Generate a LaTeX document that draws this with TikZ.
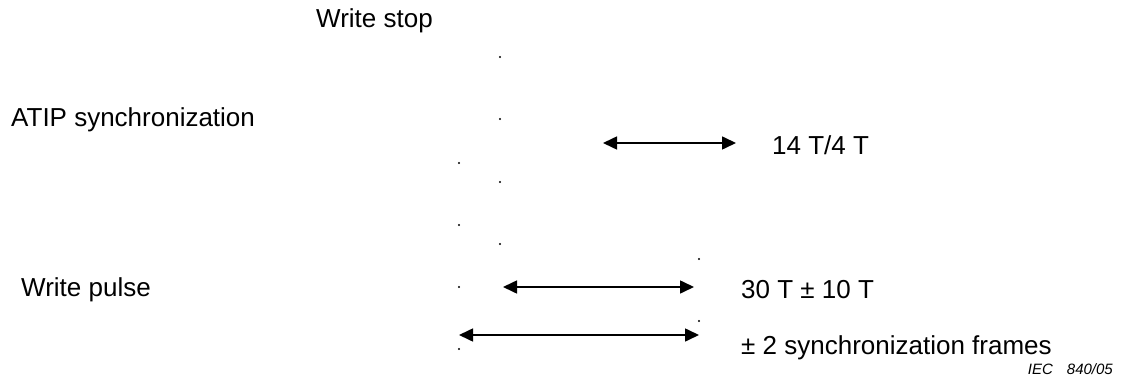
\documentclass[tikz,border=0pt]{standalone}
\usepackage{fontspec}
\setmainfont{Liberation Sans}
\usetikzlibrary{arrows.meta}
\begin{document}
\begin{tikzpicture}[x=1pt,y=-1pt,>={Triangle[length=14pt,width=13pt]},
  lbl/.style={anchor=west,inner sep=0pt,font=\fontsize{26}{30}\selectfont},
  dimline/.style={<->,line width=1.6pt}]
\useasboundingbox (0,0) rectangle (1123,387);
\def\dotr{1.2}
\foreach \x/\y in {500/57,500/119,459/163,500/182,459/225,500/244,699/259,459/287,699/321,459/349}{
\fill (\x,\y) circle (\dotr);
}
\node[lbl] (stop) at (316,21) {Write stop};
\node[lbl] (atip) at (11,120) {ATIP synchronization};
\node[lbl] (pulse) at (21,290) {Write pulse};
\coordinate (a1) at (603,143);
\coordinate (a2) at (736,143);
\coordinate (b1) at (503,287);
\coordinate (b2) at (694,287);
\coordinate (c1) at (459,335);
\coordinate (c2) at (699,335);
\draw[dimline] (a1)--(a2);
\draw[dimline] (b1)--(b2);
\draw[dimline] (c1)--(c2);
\node[lbl] (dsync) at (772,145) {14 T/4 T};
\node[lbl] (dpulse) at (741,290) {30 T ± 10 T};
\node[lbl] (dframe) at (741,348) {± 2 synchronization frames};
\node[anchor=east,inner sep=0pt,font=\fontsize{15}{18}\selectfont\itshape] (iec) at (1113,369) {IEC\hspace{14pt}840/05};
\end{tikzpicture}
\end{document}
